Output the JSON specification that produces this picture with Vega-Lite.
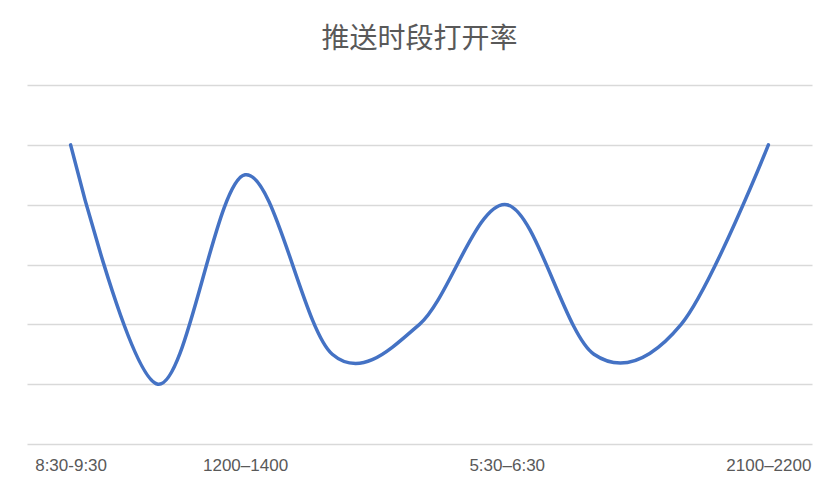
{
  "$schema": "https://vega.github.io/schema/vega-lite/v6.json",
  "width": 785,
  "height": 359,
  "autosize": "none",
  "padding": {"left": 27, "top": 85, "right": 28, "bottom": 50},
  "background": "white",
  "title": {
    "text": "推送时段打开率",
    "font": "Noto Sans CJK SC",
    "fontSize": 28,
    "fontWeight": "normal",
    "color": "#595959",
    "anchor": "middle",
    "baseline": "middle",
    "offset": 17
  },
  "data": {
    "values": [
      {"时段": "8:30-9:30", "打开率": 5},
      {"时段": " ", "打开率": 1},
      {"时段": "1200–1400", "打开率": 4.5},
      {"时段": "  ", "打开率": 1.5},
      {"时段": "   ", "打开率": 2},
      {"时段": "5:30–6:30", "打开率": 4},
      {"时段": "    ", "打开率": 1.5},
      {"时段": "     ", "打开率": 2},
      {"时段": "2100–2200", "打开率": 5}
    ]
  },
  "mark": {"type": "line", "interpolate": "cardinal", "tension": 0, "color": "#4472C4", "strokeWidth": 3.5, "strokeCap": "round"},
  "encoding": {
    "x": {
      "field": "时段",
      "type": "ordinal",
      "sort": null,
      "scale": {"padding": 0.5},
      "axis": {
        "title": null,
        "labelAngle": 0,
        "ticks": false,
        "domain": false,
        "labelPadding": 13,
        "labelFont": "Liberation Sans",
        "labelFontSize": 17,
        "labelColor": "#595959"
      }
    },
    "y": {
      "field": "打开率",
      "type": "quantitative",
      "scale": {"domain": [0, 6], "nice": false},
      "axis": {
        "title": null,
        "labels": false,
        "ticks": false,
        "domain": false,
        "values": [0, 1, 2, 3, 4, 5, 6],
        "gridColor": "#D9D9D9",
        "gridWidth": 1.3
      }
    }
  },
  "config": {"view": {"stroke": null}}
}
